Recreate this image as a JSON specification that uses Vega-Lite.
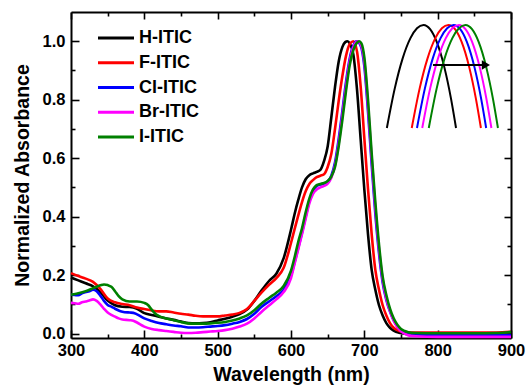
{
"$schema": "https://vega.github.io/schema/vega-lite/v6.json",
"width": 440, "height": 326,
"autosize": {"type": "none"},
"padding": {"left": 71, "top": 12, "right": 15, "bottom": 50},
"background": "white",
"config": {
  "view": {"stroke": null},
  "font": "Liberation Sans",
  "axis": {"domainColor": "black", "domainWidth": 2, "tickColor": "black", "tickWidth": 1.6, "labelFont": "Liberation Sans", "labelFontWeight": "bold", "labelFontSize": 16.5, "labelColor": "black", "titleFont": "Liberation Sans", "titleFontWeight": "bold", "titleFontSize": 19.5, "titleColor": "black", "grid": false, "labelOverlap": false, "labelFlush": false}
},
"datasets": {
  "inset": [
    {"s":"H-ITIC","w":663,"a":0.87},{"s":"H-ITIC","w":666,"a":0.9197},{"s":"H-ITIC","w":669,"a":0.9576},{"s":"H-ITIC","w":672,"a":0.9834},{"s":"H-ITIC","w":674.5,"a":0.9959},{"s":"H-ITIC","w":677,"a":1.0},{"s":"H-ITIC","w":679.5,"a":0.9947},{"s":"H-ITIC","w":682,"a":0.9789},{"s":"H-ITIC","w":685,"a":0.9459},{"s":"H-ITIC","w":687.5,"a":0.9068},{"s":"H-ITIC","w":689.4,"a":0.87},
    {"s":"F-ITIC","w":672.5,"a":0.87},{"s":"F-ITIC","w":675.5,"a":0.9197},{"s":"F-ITIC","w":678.5,"a":0.9576},{"s":"F-ITIC","w":681.5,"a":0.9834},{"s":"F-ITIC","w":684,"a":0.9959},{"s":"F-ITIC","w":686.5,"a":1.0},{"s":"F-ITIC","w":689,"a":0.9947},{"s":"F-ITIC","w":691.5,"a":0.9789},{"s":"F-ITIC","w":694.5,"a":0.9459},{"s":"F-ITIC","w":697,"a":0.9068},{"s":"F-ITIC","w":698.9,"a":0.87},
    {"s":"Cl-ITIC","w":674.5,"a":0.87},{"s":"Cl-ITIC","w":677.5,"a":0.9197},{"s":"Cl-ITIC","w":680.5,"a":0.9576},{"s":"Cl-ITIC","w":683.5,"a":0.9834},{"s":"Cl-ITIC","w":686,"a":0.9959},{"s":"Cl-ITIC","w":688.5,"a":1.0},{"s":"Cl-ITIC","w":691,"a":0.9947},{"s":"Cl-ITIC","w":693.5,"a":0.9789},{"s":"Cl-ITIC","w":696.5,"a":0.9459},{"s":"Cl-ITIC","w":699,"a":0.9068},{"s":"Cl-ITIC","w":700.9,"a":0.87},
    {"s":"Br-ITIC","w":676.5,"a":0.87},{"s":"Br-ITIC","w":679.5,"a":0.9197},{"s":"Br-ITIC","w":682.5,"a":0.9576},{"s":"Br-ITIC","w":685.5,"a":0.9834},{"s":"Br-ITIC","w":688,"a":0.9959},{"s":"Br-ITIC","w":690.5,"a":1.0},{"s":"Br-ITIC","w":693,"a":0.9947},{"s":"Br-ITIC","w":695.5,"a":0.9789},{"s":"Br-ITIC","w":698.5,"a":0.9459},{"s":"Br-ITIC","w":701,"a":0.9068},{"s":"Br-ITIC","w":702.9,"a":0.87},
    {"s":"I-ITIC","w":679,"a":0.87},{"s":"I-ITIC","w":682,"a":0.9197},{"s":"I-ITIC","w":685,"a":0.9576},{"s":"I-ITIC","w":688,"a":0.9834},{"s":"I-ITIC","w":690.5,"a":0.9959},{"s":"I-ITIC","w":693,"a":1.0},{"s":"I-ITIC","w":695.5,"a":0.9947},{"s":"I-ITIC","w":698,"a":0.9789},{"s":"I-ITIC","w":701,"a":0.9459},{"s":"I-ITIC","w":703.5,"a":0.9068},{"s":"I-ITIC","w":705.4,"a":0.87}
  ],
  "arrow": [{"w": 680.6, "w2": 699.5, "wh": 700.8, "a": 0.9495}],
  "main": [
    {"s":"H-ITIC","w":300,"a":0.192},{"s":"H-ITIC","w":310,"a":0.182},{"s":"H-ITIC","w":320,"a":0.172},{"s":"H-ITIC","w":330,"a":0.162},{"s":"H-ITIC","w":340,"a":0.142},{"s":"H-ITIC","w":350,"a":0.113},{"s":"H-ITIC","w":360,"a":0.097},{"s":"H-ITIC","w":370,"a":0.092},{"s":"H-ITIC","w":380,"a":0.091},{"s":"H-ITIC","w":390,"a":0.085},{"s":"H-ITIC","w":400,"a":0.07},{"s":"H-ITIC","w":410,"a":0.064},{"s":"H-ITIC","w":420,"a":0.058},{"s":"H-ITIC","w":430,"a":0.052},{"s":"H-ITIC","w":440,"a":0.047},{"s":"H-ITIC","w":450,"a":0.041},{"s":"H-ITIC","w":460,"a":0.036},{"s":"H-ITIC","w":470,"a":0.035},{"s":"H-ITIC","w":480,"a":0.036},{"s":"H-ITIC","w":490,"a":0.039},{"s":"H-ITIC","w":500,"a":0.045},{"s":"H-ITIC","w":510,"a":0.051},{"s":"H-ITIC","w":520,"a":0.058},{"s":"H-ITIC","w":530,"a":0.067},{"s":"H-ITIC","w":540,"a":0.082},{"s":"H-ITIC","w":550,"a":0.112},{"s":"H-ITIC","w":560,"a":0.148},{"s":"H-ITIC","w":570,"a":0.18},{"s":"H-ITIC","w":580,"a":0.205},{"s":"H-ITIC","w":590,"a":0.258},{"s":"H-ITIC","w":600,"a":0.355},{"s":"H-ITIC","w":605,"a":0.41},{"s":"H-ITIC","w":610,"a":0.458},{"s":"H-ITIC","w":615,"a":0.5},{"s":"H-ITIC","w":620,"a":0.528},{"s":"H-ITIC","w":625,"a":0.542},{"s":"H-ITIC","w":630,"a":0.548},{"s":"H-ITIC","w":635,"a":0.553},{"s":"H-ITIC","w":640,"a":0.56},{"s":"H-ITIC","w":645,"a":0.59},{"s":"H-ITIC","w":650,"a":0.64},{"s":"H-ITIC","w":655,"a":0.74},{"s":"H-ITIC","w":660,"a":0.843},{"s":"H-ITIC","w":665,"a":0.93},{"s":"H-ITIC","w":670,"a":0.98},{"s":"H-ITIC","w":674,"a":0.997},{"s":"H-ITIC","w":677,"a":1.0},{"s":"H-ITIC","w":680,"a":0.993},{"s":"H-ITIC","w":685,"a":0.955},{"s":"H-ITIC","w":690,"a":0.835},{"s":"H-ITIC","w":695,"a":0.664},{"s":"H-ITIC","w":700,"a":0.493},{"s":"H-ITIC","w":705,"a":0.34},{"s":"H-ITIC","w":710,"a":0.218},{"s":"H-ITIC","w":715,"a":0.15},{"s":"H-ITIC","w":720,"a":0.097},{"s":"H-ITIC","w":725,"a":0.062},{"s":"H-ITIC","w":730,"a":0.036},{"s":"H-ITIC","w":735,"a":0.02},{"s":"H-ITIC","w":740,"a":0.01},{"s":"H-ITIC","w":750,"a":0.002},{"s":"H-ITIC","w":760,"a":-0.003},{"s":"H-ITIC","w":800,"a":-0.004},{"s":"H-ITIC","w":850,"a":-0.004},{"s":"H-ITIC","w":900,"a":-0.002},
    {"s":"F-ITIC","w":300,"a":0.207},{"s":"F-ITIC","w":310,"a":0.197},{"s":"F-ITIC","w":320,"a":0.188},{"s":"F-ITIC","w":330,"a":0.177},{"s":"F-ITIC","w":340,"a":0.153},{"s":"F-ITIC","w":350,"a":0.12},{"s":"F-ITIC","w":360,"a":0.107},{"s":"F-ITIC","w":370,"a":0.101},{"s":"F-ITIC","w":380,"a":0.097},{"s":"F-ITIC","w":390,"a":0.089},{"s":"F-ITIC","w":400,"a":0.084},{"s":"F-ITIC","w":410,"a":0.079},{"s":"F-ITIC","w":420,"a":0.076},{"s":"F-ITIC","w":430,"a":0.076},{"s":"F-ITIC","w":440,"a":0.072},{"s":"F-ITIC","w":450,"a":0.068},{"s":"F-ITIC","w":460,"a":0.065},{"s":"F-ITIC","w":470,"a":0.061},{"s":"F-ITIC","w":480,"a":0.059},{"s":"F-ITIC","w":490,"a":0.059},{"s":"F-ITIC","w":500,"a":0.059},{"s":"F-ITIC","w":510,"a":0.062},{"s":"F-ITIC","w":520,"a":0.065},{"s":"F-ITIC","w":530,"a":0.071},{"s":"F-ITIC","w":540,"a":0.084},{"s":"F-ITIC","w":550,"a":0.112},{"s":"F-ITIC","w":560,"a":0.141},{"s":"F-ITIC","w":570,"a":0.167},{"s":"F-ITIC","w":580,"a":0.19},{"s":"F-ITIC","w":590,"a":0.225},{"s":"F-ITIC","w":600,"a":0.31},{"s":"F-ITIC","w":605,"a":0.358},{"s":"F-ITIC","w":610,"a":0.405},{"s":"F-ITIC","w":615,"a":0.45},{"s":"F-ITIC","w":620,"a":0.487},{"s":"F-ITIC","w":625,"a":0.512},{"s":"F-ITIC","w":630,"a":0.525},{"s":"F-ITIC","w":635,"a":0.535},{"s":"F-ITIC","w":640,"a":0.54},{"s":"F-ITIC","w":645,"a":0.545},{"s":"F-ITIC","w":650,"a":0.57},{"s":"F-ITIC","w":655,"a":0.615},{"s":"F-ITIC","w":660,"a":0.7},{"s":"F-ITIC","w":665,"a":0.795},{"s":"F-ITIC","w":670,"a":0.88},{"s":"F-ITIC","w":675,"a":0.95},{"s":"F-ITIC","w":680,"a":0.99},{"s":"F-ITIC","w":685,"a":1.0},{"s":"F-ITIC","w":690,"a":0.965},{"s":"F-ITIC","w":695,"a":0.845},{"s":"F-ITIC","w":700,"a":0.668},{"s":"F-ITIC","w":705,"a":0.495},{"s":"F-ITIC","w":710,"a":0.34},{"s":"F-ITIC","w":715,"a":0.218},{"s":"F-ITIC","w":720,"a":0.15},{"s":"F-ITIC","w":725,"a":0.097},{"s":"F-ITIC","w":730,"a":0.062},{"s":"F-ITIC","w":735,"a":0.036},{"s":"F-ITIC","w":740,"a":0.02},{"s":"F-ITIC","w":745,"a":0.012},{"s":"F-ITIC","w":750,"a":0.007},{"s":"F-ITIC","w":760,"a":0.004},{"s":"F-ITIC","w":800,"a":0.004},{"s":"F-ITIC","w":850,"a":0.004},{"s":"F-ITIC","w":880,"a":0.004},{"s":"F-ITIC","w":900,"a":0.006},
    {"s":"Cl-ITIC","w":300,"a":0.133},{"s":"Cl-ITIC","w":305,"a":0.132},{"s":"Cl-ITIC","w":310,"a":0.131},{"s":"Cl-ITIC","w":315,"a":0.138},{"s":"Cl-ITIC","w":320,"a":0.142},{"s":"Cl-ITIC","w":325,"a":0.145},{"s":"Cl-ITIC","w":330,"a":0.15},{"s":"Cl-ITIC","w":335,"a":0.145},{"s":"Cl-ITIC","w":340,"a":0.13},{"s":"Cl-ITIC","w":345,"a":0.112},{"s":"Cl-ITIC","w":350,"a":0.098},{"s":"Cl-ITIC","w":355,"a":0.092},{"s":"Cl-ITIC","w":360,"a":0.085},{"s":"Cl-ITIC","w":365,"a":0.079},{"s":"Cl-ITIC","w":370,"a":0.075},{"s":"Cl-ITIC","w":380,"a":0.072},{"s":"Cl-ITIC","w":385,"a":0.071},{"s":"Cl-ITIC","w":390,"a":0.066},{"s":"Cl-ITIC","w":400,"a":0.052},{"s":"Cl-ITIC","w":410,"a":0.043},{"s":"Cl-ITIC","w":420,"a":0.036},{"s":"Cl-ITIC","w":430,"a":0.032},{"s":"Cl-ITIC","w":440,"a":0.028},{"s":"Cl-ITIC","w":450,"a":0.025},{"s":"Cl-ITIC","w":460,"a":0.021},{"s":"Cl-ITIC","w":470,"a":0.021},{"s":"Cl-ITIC","w":480,"a":0.022},{"s":"Cl-ITIC","w":490,"a":0.024},{"s":"Cl-ITIC","w":500,"a":0.026},{"s":"Cl-ITIC","w":510,"a":0.029},{"s":"Cl-ITIC","w":520,"a":0.034},{"s":"Cl-ITIC","w":530,"a":0.04},{"s":"Cl-ITIC","w":540,"a":0.05},{"s":"Cl-ITIC","w":550,"a":0.068},{"s":"Cl-ITIC","w":560,"a":0.092},{"s":"Cl-ITIC","w":570,"a":0.11},{"s":"Cl-ITIC","w":580,"a":0.128},{"s":"Cl-ITIC","w":590,"a":0.15},{"s":"Cl-ITIC","w":600,"a":0.198},{"s":"Cl-ITIC","w":605,"a":0.245},{"s":"Cl-ITIC","w":610,"a":0.295},{"s":"Cl-ITIC","w":615,"a":0.345},{"s":"Cl-ITIC","w":620,"a":0.4},{"s":"Cl-ITIC","w":625,"a":0.452},{"s":"Cl-ITIC","w":630,"a":0.487},{"s":"Cl-ITIC","w":635,"a":0.505},{"s":"Cl-ITIC","w":640,"a":0.51},{"s":"Cl-ITIC","w":645,"a":0.513},{"s":"Cl-ITIC","w":650,"a":0.52},{"s":"Cl-ITIC","w":655,"a":0.54},{"s":"Cl-ITIC","w":660,"a":0.585},{"s":"Cl-ITIC","w":665,"a":0.665},{"s":"Cl-ITIC","w":670,"a":0.76},{"s":"Cl-ITIC","w":675,"a":0.86},{"s":"Cl-ITIC","w":680,"a":0.94},{"s":"Cl-ITIC","w":685,"a":0.985},{"s":"Cl-ITIC","w":689.5,"a":1.0},{"s":"Cl-ITIC","w":695,"a":0.985},{"s":"Cl-ITIC","w":700,"a":0.915},{"s":"Cl-ITIC","w":705,"a":0.76},{"s":"Cl-ITIC","w":710,"a":0.58},{"s":"Cl-ITIC","w":715,"a":0.41},{"s":"Cl-ITIC","w":720,"a":0.275},{"s":"Cl-ITIC","w":725,"a":0.175},{"s":"Cl-ITIC","w":730,"a":0.115},{"s":"Cl-ITIC","w":735,"a":0.075},{"s":"Cl-ITIC","w":740,"a":0.045},{"s":"Cl-ITIC","w":745,"a":0.025},{"s":"Cl-ITIC","w":750,"a":0.012},{"s":"Cl-ITIC","w":755,"a":0.005},{"s":"Cl-ITIC","w":760,"a":0.0},{"s":"Cl-ITIC","w":770,"a":-0.004},{"s":"Cl-ITIC","w":800,"a":-0.006},{"s":"Cl-ITIC","w":850,"a":-0.006},{"s":"Cl-ITIC","w":900,"a":-0.005},
    {"s":"Br-ITIC","w":300,"a":0.105},{"s":"Br-ITIC","w":305,"a":0.104},{"s":"Br-ITIC","w":310,"a":0.102},{"s":"Br-ITIC","w":315,"a":0.107},{"s":"Br-ITIC","w":320,"a":0.11},{"s":"Br-ITIC","w":325,"a":0.113},{"s":"Br-ITIC","w":330,"a":0.117},{"s":"Br-ITIC","w":335,"a":0.112},{"s":"Br-ITIC","w":340,"a":0.1},{"s":"Br-ITIC","w":345,"a":0.085},{"s":"Br-ITIC","w":350,"a":0.072},{"s":"Br-ITIC","w":355,"a":0.064},{"s":"Br-ITIC","w":360,"a":0.058},{"s":"Br-ITIC","w":365,"a":0.052},{"s":"Br-ITIC","w":370,"a":0.048},{"s":"Br-ITIC","w":380,"a":0.046},{"s":"Br-ITIC","w":385,"a":0.044},{"s":"Br-ITIC","w":390,"a":0.038},{"s":"Br-ITIC","w":400,"a":0.024},{"s":"Br-ITIC","w":410,"a":0.016},{"s":"Br-ITIC","w":420,"a":0.012},{"s":"Br-ITIC","w":430,"a":0.009},{"s":"Br-ITIC","w":440,"a":0.006},{"s":"Br-ITIC","w":450,"a":0.003},{"s":"Br-ITIC","w":460,"a":0.002},{"s":"Br-ITIC","w":470,"a":0.003},{"s":"Br-ITIC","w":480,"a":0.005},{"s":"Br-ITIC","w":490,"a":0.007},{"s":"Br-ITIC","w":500,"a":0.009},{"s":"Br-ITIC","w":510,"a":0.012},{"s":"Br-ITIC","w":520,"a":0.017},{"s":"Br-ITIC","w":530,"a":0.024},{"s":"Br-ITIC","w":540,"a":0.034},{"s":"Br-ITIC","w":550,"a":0.052},{"s":"Br-ITIC","w":560,"a":0.075},{"s":"Br-ITIC","w":570,"a":0.096},{"s":"Br-ITIC","w":580,"a":0.117},{"s":"Br-ITIC","w":590,"a":0.142},{"s":"Br-ITIC","w":600,"a":0.19},{"s":"Br-ITIC","w":605,"a":0.24},{"s":"Br-ITIC","w":610,"a":0.29},{"s":"Br-ITIC","w":615,"a":0.34},{"s":"Br-ITIC","w":620,"a":0.393},{"s":"Br-ITIC","w":625,"a":0.445},{"s":"Br-ITIC","w":630,"a":0.478},{"s":"Br-ITIC","w":635,"a":0.493},{"s":"Br-ITIC","w":640,"a":0.5},{"s":"Br-ITIC","w":645,"a":0.505},{"s":"Br-ITIC","w":650,"a":0.513},{"s":"Br-ITIC","w":655,"a":0.533},{"s":"Br-ITIC","w":660,"a":0.575},{"s":"Br-ITIC","w":665,"a":0.65},{"s":"Br-ITIC","w":670,"a":0.745},{"s":"Br-ITIC","w":675,"a":0.845},{"s":"Br-ITIC","w":680,"a":0.93},{"s":"Br-ITIC","w":685,"a":0.98},{"s":"Br-ITIC","w":691,"a":1.0},{"s":"Br-ITIC","w":695,"a":0.99},{"s":"Br-ITIC","w":700,"a":0.93},{"s":"Br-ITIC","w":705,"a":0.78},{"s":"Br-ITIC","w":710,"a":0.6},{"s":"Br-ITIC","w":715,"a":0.43},{"s":"Br-ITIC","w":720,"a":0.29},{"s":"Br-ITIC","w":725,"a":0.185},{"s":"Br-ITIC","w":730,"a":0.12},{"s":"Br-ITIC","w":735,"a":0.078},{"s":"Br-ITIC","w":740,"a":0.045},{"s":"Br-ITIC","w":745,"a":0.022},{"s":"Br-ITIC","w":750,"a":0.008},{"s":"Br-ITIC","w":755,"a":0.0},{"s":"Br-ITIC","w":760,"a":-0.006},{"s":"Br-ITIC","w":770,"a":-0.009},{"s":"Br-ITIC","w":800,"a":-0.011},{"s":"Br-ITIC","w":850,"a":-0.011},{"s":"Br-ITIC","w":900,"a":-0.011},
    {"s":"I-ITIC","w":300,"a":0.133},{"s":"I-ITIC","w":310,"a":0.138},{"s":"I-ITIC","w":320,"a":0.145},{"s":"I-ITIC","w":330,"a":0.155},{"s":"I-ITIC","w":340,"a":0.165},{"s":"I-ITIC","w":345,"a":0.168},{"s":"I-ITIC","w":350,"a":0.166},{"s":"I-ITIC","w":355,"a":0.16},{"s":"I-ITIC","w":360,"a":0.145},{"s":"I-ITIC","w":365,"a":0.128},{"s":"I-ITIC","w":370,"a":0.117},{"s":"I-ITIC","w":380,"a":0.11},{"s":"I-ITIC","w":390,"a":0.11},{"s":"I-ITIC","w":400,"a":0.105},{"s":"I-ITIC","w":405,"a":0.098},{"s":"I-ITIC","w":410,"a":0.082},{"s":"I-ITIC","w":415,"a":0.068},{"s":"I-ITIC","w":420,"a":0.06},{"s":"I-ITIC","w":430,"a":0.052},{"s":"I-ITIC","w":440,"a":0.046},{"s":"I-ITIC","w":450,"a":0.04},{"s":"I-ITIC","w":460,"a":0.035},{"s":"I-ITIC","w":470,"a":0.034},{"s":"I-ITIC","w":480,"a":0.034},{"s":"I-ITIC","w":490,"a":0.035},{"s":"I-ITIC","w":500,"a":0.037},{"s":"I-ITIC","w":510,"a":0.04},{"s":"I-ITIC","w":520,"a":0.045},{"s":"I-ITIC","w":530,"a":0.052},{"s":"I-ITIC","w":540,"a":0.062},{"s":"I-ITIC","w":550,"a":0.08},{"s":"I-ITIC","w":560,"a":0.103},{"s":"I-ITIC","w":570,"a":0.122},{"s":"I-ITIC","w":580,"a":0.14},{"s":"I-ITIC","w":590,"a":0.163},{"s":"I-ITIC","w":600,"a":0.215},{"s":"I-ITIC","w":605,"a":0.262},{"s":"I-ITIC","w":610,"a":0.315},{"s":"I-ITIC","w":615,"a":0.36},{"s":"I-ITIC","w":620,"a":0.415},{"s":"I-ITIC","w":625,"a":0.462},{"s":"I-ITIC","w":630,"a":0.493},{"s":"I-ITIC","w":635,"a":0.508},{"s":"I-ITIC","w":640,"a":0.512},{"s":"I-ITIC","w":645,"a":0.515},{"s":"I-ITIC","w":650,"a":0.522},{"s":"I-ITIC","w":655,"a":0.537},{"s":"I-ITIC","w":660,"a":0.57},{"s":"I-ITIC","w":665,"a":0.64},{"s":"I-ITIC","w":670,"a":0.73},{"s":"I-ITIC","w":675,"a":0.83},{"s":"I-ITIC","w":680,"a":0.918},{"s":"I-ITIC","w":685,"a":0.97},{"s":"I-ITIC","w":690,"a":0.995},{"s":"I-ITIC","w":693,"a":1.0},{"s":"I-ITIC","w":696,"a":0.993},{"s":"I-ITIC","w":700,"a":0.945},{"s":"I-ITIC","w":705,"a":0.8},{"s":"I-ITIC","w":710,"a":0.617},{"s":"I-ITIC","w":715,"a":0.45},{"s":"I-ITIC","w":720,"a":0.305},{"s":"I-ITIC","w":725,"a":0.195},{"s":"I-ITIC","w":730,"a":0.132},{"s":"I-ITIC","w":735,"a":0.085},{"s":"I-ITIC","w":740,"a":0.052},{"s":"I-ITIC","w":745,"a":0.03},{"s":"I-ITIC","w":750,"a":0.016},{"s":"I-ITIC","w":755,"a":0.009},{"s":"I-ITIC","w":760,"a":0.005},{"s":"I-ITIC","w":770,"a":0.002},{"s":"I-ITIC","w":800,"a":0.001},{"s":"I-ITIC","w":850,"a":0.001},{"s":"I-ITIC","w":880,"a":0.002},{"s":"I-ITIC","w":900,"a":0.006}
  ]
},
"layer": [
  {
    "data": {"name": "main"},
    "layer": [
      {
        "mark": {"type": "line", "strokeWidth": 2.6, "interpolate": "monotone"},
        "encoding": {
          "x": {"field": "w", "type": "quantitative", "scale": {"domain": [300, 900], "nice": false, "zero": false},
                "axis": {"orient": "bottom", "title": "Wavelength (nm)", "values": [300,350,400,450,500,550,600,650,700,750,800,850,900],
                         "labelExpr": "datum.value % 100 === 0 ? datum.label : ''",
                         "tickSize": {"condition": {"test": "datum.value % 100 === 0", "value": -8}, "value": -4},
                         "labelPadding": 12, "titlePadding": 3}},
          "y": {"field": "a", "type": "quantitative", "scale": {"domain": [-0.015, 1.1], "nice": false, "zero": false},
                "axis": {"orient": "left", "title": "Normalized Absorbance", "values": [0,0.1,0.2,0.3,0.4,0.5,0.6,0.7,0.8,0.9,1.0],
                         "labelExpr": "round(datum.value*10) % 2 === 0 ? format(datum.value, '.1f') : ''",
                         "tickSize": {"condition": {"test": "round(datum.value*10) % 2 === 0", "value": -8}, "value": -4},
                         "labelPadding": 14, "titlePadding": 10}},
          "color": {"field": "s", "type": "nominal",
                    "scale": {"domain": ["H-ITIC","F-ITIC","Cl-ITIC","Br-ITIC","I-ITIC"], "range": ["#000000","#ff0000","#0000ff","#ff00ff","#008000"]},
                    "legend": {"title": null, "orient": "none", "legendX": 33.5, "legendY": 14.5, "padding": 0,
                               "symbolType": "M-1.8,0H1.8", "symbolSize": 400, "symbolStrokeWidth": 3,
                               "labelOffset": 11.5, "labelFontSize": 18, "labelFontWeight": "bold", "labelFont": "Liberation Sans", "labelColor": "black",
                               "rowPadding": 3.75}}
        }
      },
      {
        "mark": {"type": "point", "opacity": 0},
        "encoding": {
          "x": {"field": "w", "type": "quantitative", "scale": {"domain": [300, 900], "nice": false, "zero": false},
                "axis": {"orient": "top", "title": null, "labels": false, "values": [300,350,400,450,500,550,600,650,700,750,800,850,900],
                         "tickSize": {"condition": {"test": "datum.value % 100 === 0", "value": -7}, "value": -4}}},
          "y": {"field": "a", "type": "quantitative", "scale": {"domain": [-0.015, 1.1], "nice": false, "zero": false},
                "axis": {"orient": "right", "title": null, "labels": false, "values": [0,0.1,0.2,0.3,0.4,0.5,0.6,0.7,0.8,0.9,1.0],
                         "tickSize": {"condition": {"test": "round(datum.value*10) % 2 === 0", "value": -7}, "value": -4}}}
        }
      }
    ],
    "resolve": {"axis": {"x": "independent", "y": "independent"}}
  },
  {
    "layer": [
      {
        "data": {"name": "inset"},
        "mark": {"type": "line", "strokeWidth": 2, "interpolate": "monotone"},
        "encoding": {
          "x": {"field": "w", "type": "quantitative", "scale": {"domain": [660, 710], "range": [308, 439], "nice": false, "zero": false}, "axis": null},
          "y": {"field": "a", "type": "quantitative", "scale": {"domain": [0.87, 1.0], "range": [116, 13], "nice": false, "zero": false}, "axis": null},
          "color": {"field": "s", "type": "nominal",
                    "scale": {"domain": ["H-ITIC","F-ITIC","Cl-ITIC","Br-ITIC","I-ITIC"], "range": ["#000000","#ff0000","#0000ff","#ff00ff","#008000"]},
                    "legend": null}
        }
      },
      {
        "data": {"name": "arrow"},
        "mark": {"type": "rule", "strokeWidth": 2, "color": "black"},
        "encoding": {
          "x": {"field": "w", "type": "quantitative"},
          "x2": {"field": "w2"},
          "y": {"field": "a", "type": "quantitative"}
        }
      },
      {
        "data": {"name": "arrow"},
        "mark": {"type": "point", "shape": "triangle-right", "filled": true, "color": "black", "size": 90, "opacity": 1},
        "encoding": {
          "x": {"field": "wh", "type": "quantitative"},
          "y": {"field": "a", "type": "quantitative"}
        }
      }
    ]
  }
],
"resolve": {"scale": {"x": "independent", "y": "independent", "color": "independent"}}
}
